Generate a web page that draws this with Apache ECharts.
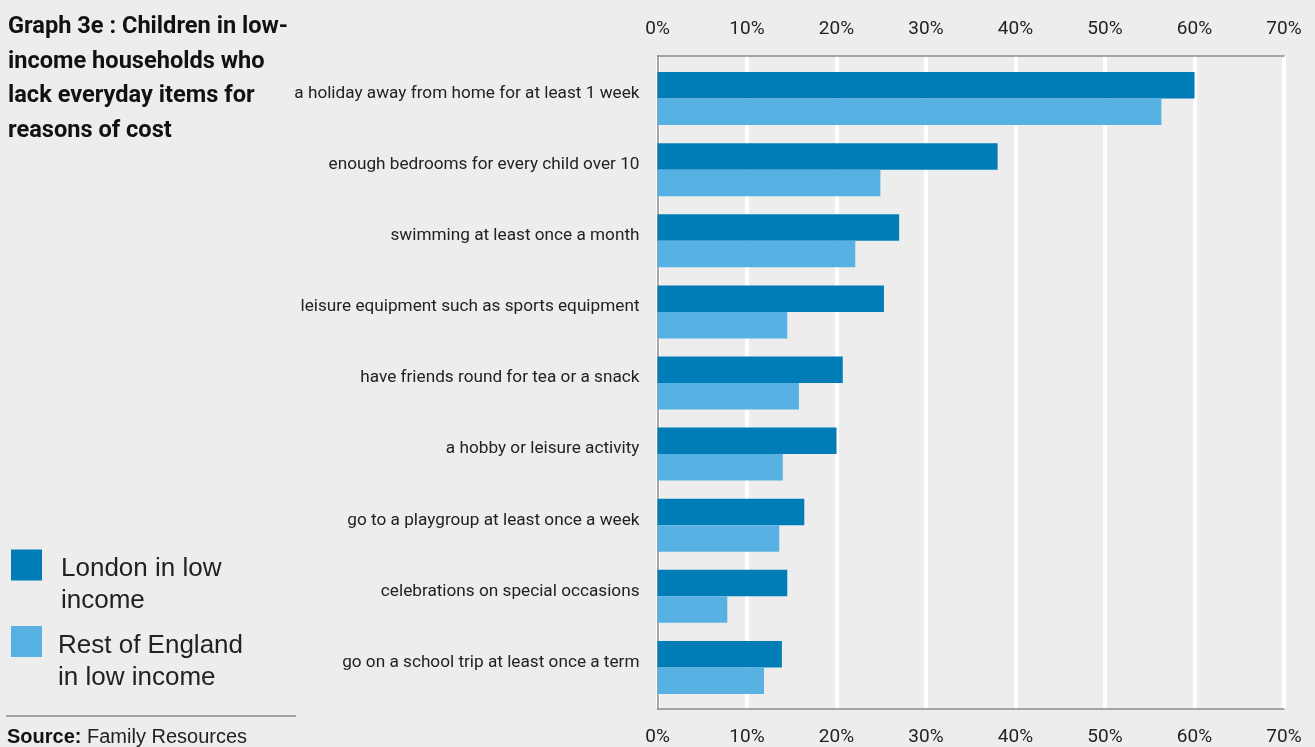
<!DOCTYPE html>
<html>
<head>
<meta charset="utf-8">
<script src="https://cdn.jsdelivr.net/npm/echarts@6/dist/echarts.min.js"></script>
<style>
  html, body { margin: 0; padding: 0; background: #ededed; }
  #chart { width: 1315px; height: 747px; }
</style>
</head>
<body>
<div id="chart"></div>
<script>
// Items lacked for reasons of cost, top to bottom
const categories = [
  'a holiday away from home for at least 1 week',
  'enough bedrooms for every child over 10',
  'swimming at least once a month',
  'leisure equipment such as sports equipment',
  'have friends round for tea or a snack',
  'a hobby or leisure activity',
  'go to a playgroup at least once a week',
  'celebrations on special occasions',
  'go on a school trip at least once a term'
];
// Share of children (%) lacking each item
const londonLowIncome = [60, 38, 27, 25.3, 20.7, 20, 16.4, 14.5, 13.9];
const restOfEnglandLowIncome = [56.3, 24.9, 22.1, 14.5, 15.8, 14, 13.6, 7.8, 11.9];
const seriesNames = ['London in low income', 'Rest of England in low income'];
const legendLines = [['London in low', 'income'], ['Rest of England', 'in low income']];
const axisMax = 70;
const axisStep = 10;

const COND = 'Roboto, "Liberation Sans", Arial, sans-serif';
const SANS = '"Liberation Sans", Arial, sans-serif';
const DARK = '#007db6';
const LIGHT = '#57b1e3';

const chart = echarts.init(document.getElementById('chart'));

// a spacer line above the label keeps its first line level with the swatch
const legendLabel = (lines) => '{gap| }\n' + lines.map(l => '{t|' + l + '}').join('\n');
const legendText = (padLeft) => ({
  padding: [0, 0, 0, padLeft],
  rich: {
    gap: { fontSize: 10, lineHeight: 40 },
    t: { fontFamily: SANS, fontSize: 26, color: '#222', lineHeight: 32 }
  }
});

chart.setOption({
  backgroundColor: '#ededed',
  animation: false,
  title: [
    {
      text: 'Graph 3e : Children in low-\nincome households who\nlack everyday items for\nreasons of cost',
      left: 8, top: 10, padding: 0,
      textStyle: { fontFamily: COND, fontWeight: 'bold', fontSize: 23.6, lineHeight: 34.5, color: '#111' }
    },
    {
      text: '{b|Source:} Family Resources',
      left: 7, top: 727, padding: 0,
      textStyle: {
        fontFamily: SANS, fontSize: 20, fontWeight: 'normal', color: '#222',
        rich: { b: { fontFamily: SANS, fontSize: 20, fontWeight: 'bold', color: '#111' } }
      }
    }
  ],
  legend: [
    {
      data: [seriesNames[0]], orient: 'vertical', left: 11, top: 528, padding: 0,
      itemWidth: 31, itemHeight: 31, icon: 'rect', selectedMode: false,
      formatter: () => legendLabel(legendLines[0]),
      textStyle: legendText(14)
    },
    {
      data: [seriesNames[1]], orient: 'vertical', left: 11, top: 604.5, padding: 0,
      itemWidth: 31, itemHeight: 31, icon: 'rect', selectedMode: false,
      formatter: () => legendLabel(legendLines[1]),
      textStyle: legendText(11)
    }
  ],
  graphic: [
    { type: 'line', shape: { x1: 6, y1: 716, x2: 296, y2: 716 }, style: { stroke: '#8a8a8a', lineWidth: 1.5 } }
  ],
  grid: [
    // frame with gridlines and percentage scales
    { left: 657.5, right: 31, top: 56, bottom: 37, containLabel: false },
    // bar area
    { left: 657.5, right: 31, top: 63, height: 640, containLabel: false }
  ],
  xAxis: [
    {
      gridIndex: 0, type: 'value', position: 'top', min: 0, max: axisMax, interval: axisStep,
      axisLine: { show: true, onZero: false, lineStyle: { color: '#8a8a8a', width: 1.5 } },
      axisTick: { show: false },
      axisLabel: { formatter: '{value}%', margin: 17, fontFamily: COND, fontSize: 19, color: '#222' },
      splitLine: { show: true, lineStyle: { color: '#ffffff', width: 4 } }
    },
    {
      gridIndex: 0, type: 'value', position: 'bottom', min: 0, max: axisMax, interval: axisStep,
      axisLine: { show: true, onZero: false, lineStyle: { color: '#8a8a8a', width: 1.5 } },
      axisTick: { show: false },
      axisLabel: { formatter: '{value}%', margin: 19, fontFamily: COND, fontSize: 19, color: '#222' },
      splitLine: { show: false }
    },
    {
      gridIndex: 1, type: 'value', min: 0, max: axisMax, interval: axisStep, show: false
    }
  ],
  yAxis: [
    {
      gridIndex: 0, type: 'value', min: 0, max: 1,
      axisLine: { show: true, onZero: false, lineStyle: { color: '#8a8a8a', width: 1.5 } },
      axisTick: { show: false }, axisLabel: { show: false }, splitLine: { show: false }
    },
    {
      gridIndex: 1, type: 'category', data: categories, inverse: true,
      axisLine: { show: false }, axisTick: { show: false },
      axisLabel: {
        margin: 18, fontFamily: COND, fontSize: 17.2, color: '#222',
        verticalAlign: 'bottom', lineHeight: 10
      }
    }
  ],
  series: [
    {
      name: seriesNames[0], type: 'bar', xAxisIndex: 2, yAxisIndex: 1,
      data: londonLowIncome, barWidth: 26.5, barGap: '0%',
      itemStyle: { color: DARK }
    },
    {
      name: seriesNames[1], type: 'bar', xAxisIndex: 2, yAxisIndex: 1,
      data: restOfEnglandLowIncome, barWidth: 26.5, barGap: '0%',
      itemStyle: { color: LIGHT }
    }
  ]
});
</script>
</body>
</html>
